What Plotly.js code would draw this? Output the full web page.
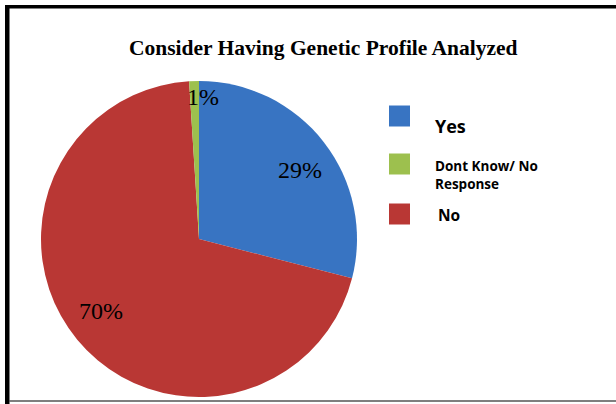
<!DOCTYPE html>
<html>
<head>
<meta charset="utf-8">
<script src="https://cdn.plot.ly/plotly-3.0.1.min.js"></script>
<style>
html,body{margin:0;padding:0;background:#fff;}
#chart{width:616px;height:404px;}
</style>
</head>
<body>
<div id="chart"></div>
<script>
// Data (legend order)
const categories = ['Yes', 'Dont Know/ No Response', 'No'];
const legendLabels = ['Yes', 'Dont Know/ No<br>Response', 'No'];
const values = [29, 1, 70];
const colors = ['#3874c2', '#9dc04e', '#b93734'];
// clockwise slice order starting at 12 o'clock
const sliceOrder = [0, 2, 1];

const W = 616, H = 404;
const px = x => x / W;
const py = y => 1 - y / H;

// pie geometry
const cx = 199, cy = 239, R = 158;

const pieLabels = sliceOrder.map(i => categories[i]);
const pieValues = sliceOrder.map(i => values[i]);
const pieColors = sliceOrder.map(i => colors[i]);

const trace = {
  type: 'pie',
  labels: pieLabels,
  values: pieValues,
  sort: false,
  direction: 'clockwise',
  rotation: 0,
  marker: {colors: pieColors, line: {width: 0}},
  textinfo: 'none',
  hoverinfo: 'label+percent',
  showlegend: false,
  domain: {x: [px(cx - R), px(cx + R)], y: [py(cy + R), py(cy - R)]}
};

// percent labels placed from data angles
const total = pieValues.reduce((a, b) => a + b, 0);
const annotations = [];
const labelAngleOffset = 3.5 * Math.PI / 180;
let cum = 0;
pieValues.forEach((v, k) => {
  const mid = (cum + v / 2) / total * 2 * Math.PI + labelAngleOffset;
  cum += v;
  const small = v / total < 0.05;
  const frac = small ? 0.9 : 0.77;
  const x = cx + frac * R * Math.sin(mid);
  const y = cy - frac * R * Math.cos(mid);
  annotations.push({
    xref: 'paper', yref: 'paper', x: px(x), y: py(y),
    xanchor: 'center', yanchor: 'middle', showarrow: false,
    text: Math.round(v / total * 100) + '%',
    font: {family: 'Liberation Serif, Times New Roman, serif', size: 24, color: '#000'}
  });
});

// title
annotations.push({
  xref: 'paper', yref: 'paper', x: px(323), y: py(48),
  xanchor: 'center', yanchor: 'middle', showarrow: false,
  text: '<b>Consider Having Genetic Profile Analyzed</b>',
  font: {family: 'Liberation Serif, Times New Roman, serif', size: 21.5, color: '#000'}
});

// custom legend
const shapes = [];
const legendY = [116, 164, 214];
const legendTextX = [435, 435, 438];
const legendTextY = [126, 175, 215];
const legendSize = [18, 13.5, 15.5];
categories.forEach((c, i) => {
  shapes.push({
    type: 'rect', xref: 'paper', yref: 'paper',
    x0: px(389), x1: px(410), y0: py(legendY[i] + 10.5), y1: py(legendY[i] - 10.5),
    fillcolor: colors[i], line: {width: 0}
  });
  annotations.push({
    xref: 'paper', yref: 'paper', x: px(legendTextX[i] - 2), y: py(legendTextY[i]),
    xanchor: 'left', yanchor: 'middle', align: 'left', showarrow: false,
    text: '<b>' + legendLabels[i] + '</b>',
    font: {family: 'Open Sans, sans-serif', size: legendSize[i], color: '#000'}
  });
});

// frame
shapes.push({type: 'rect', xref: 'paper', yref: 'paper', x0: px(5), x1: px(616), y0: py(8.5), y1: py(5), fillcolor: '#000', line: {width: 0}});
shapes.push({type: 'rect', xref: 'paper', yref: 'paper', x0: px(5), x1: px(9.5), y0: py(404), y1: py(5), fillcolor: '#000', line: {width: 0}});
shapes.push({type: 'line', xref: 'paper', yref: 'paper', x0: px(9), x1: px(616), y0: py(401), y1: py(401), line: {color: '#555', width: 1.5}});

const layout = {
  width: W, height: H,
  margin: {l: 0, r: 0, t: 0, b: 0},
  paper_bgcolor: '#fff',
  showlegend: false,
  annotations: annotations,
  shapes: shapes
};

Plotly.newPlot('chart', [trace], layout, {displayModeBar: false, staticPlot: true});
</script>
</body>
</html>
